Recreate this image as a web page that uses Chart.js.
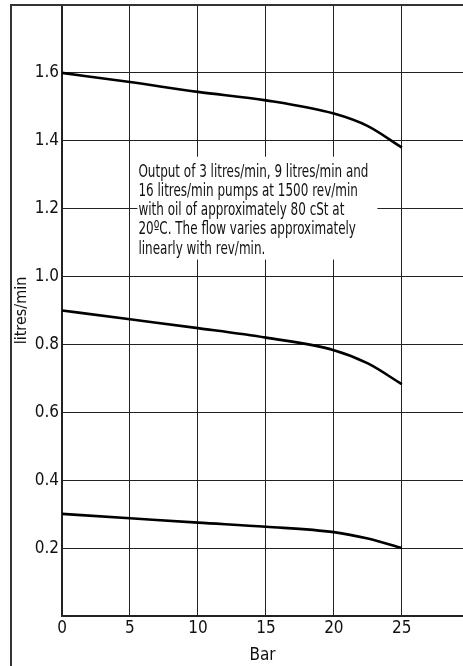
<!DOCTYPE html>
<html>
<head>
<meta charset="utf-8">
<script src="https://cdn.jsdelivr.net/npm/chart.js@4/dist/chart.umd.min.js"></script>
<style>
  html, body { margin: 0; padding: 0; background: #fff; }
  #wrap { width: 463px; height: 666px; }
</style>
</head>
<body>
<div id="wrap"><canvas id="mycanvas" width="463" height="666"></canvas></div>
<script>
// pressure (bar) against flow (litres/min) for the three pumps
const pressure = [0, 5, 10, 15, 20, 22.5, 25];
const flow16 = [1.6, 1.573, 1.544, 1.519, 1.48, 1.443, 1.38];
const flow9 = [0.9, 0.874, 0.848, 0.82, 0.783, 0.744, 0.683];
const flow3 = [0.301, 0.288, 0.275, 0.263, 0.247, 0.228, 0.2];

const yTickLabels = ['0.2', '0.4', '0.6', '0.8', '1.0', '1.2', '1.4', '1.6'];
const noteLines = [
  'Output of 3 litres/min, 9 litres/min and',
  '16 litres/min pumps at 1500 rev/min',
  'with oil of approximately 80 cSt at',
  '20ºC. The flow varies approximately',
  'linearly with rev/min.'
];

const FONT = '"Liberation Sans Narrow", "DejaVu Sans Condensed", sans-serif';

function toPoints(ys) {
  return pressure.map((x, i) => ({ x: x, y: ys[i] }));
}

function lineSet(ys) {
  return {
    data: toPoints(ys),
    borderColor: '#000',
    borderWidth: 2.6,
    pointRadius: 0,
    fill: false,
    cubicInterpolationMode: 'monotone'
  };
}

// outer frame and the note box
const extras = {
  id: 'extras',
  beforeDraw(chart) {
    const c = chart.ctx;
    c.save();
    c.fillStyle = '#fff';
    c.fillRect(0, 0, chart.width, chart.height);
    c.restore();
  },
  afterDraw(chart) {
    const c = chart.ctx;
    const xs = chart.scales.x, ys = chart.scales.y;
    c.save();
    c.strokeStyle = '#333';
    c.lineWidth = 2;
    c.beginPath();
    c.moveTo(11, chart.height);
    c.lineTo(11, 5);
    c.lineTo(chart.width, 5);
    c.stroke();

    // note box
    const left = xs.getPixelForValue(5.55);
    const right = xs.getPixelForValue(23.2);
    const top = ys.getPixelForValue(1.353);
    const bottom = ys.getPixelForValue(1.05);
    c.fillStyle = '#fff';
    c.fillRect(left, top, right - left, bottom - top);
    c.fillStyle = '#111';
    c.font = '18.5px ' + FONT;
    c.textBaseline = 'alphabetic';
    const w0 = c.measureText(noteLines[0]).width;
    const sx = 230 / w0;
    noteLines.forEach((t, i) => {
      c.save();
      c.translate(left + 1, top + 20 + i * 19.2);
      c.scale(sx, 1);
      c.fillText(t, 0, 0);
      c.restore();
    });
    c.restore();
  }
};

const config = {
  type: 'line',
  data: {
    datasets: [lineSet(flow16), lineSet(flow9), lineSet(flow3)]
  },
  options: {
    responsive: false,
    animation: false,
    layout: { padding: { left: 10, top: 5, right: 0, bottom: 0 } },
    plugins: {
      legend: { display: false },
      tooltip: { enabled: false }
    },
    scales: {
      x: {
        type: 'linear',
        min: 0,
        max: 29.5,
        afterFit(scale) { scale.height = 50; scale.paddingRight = 0; },
        ticks: {
          stepSize: 5,
          includeBounds: false,
          color: '#111',
          font: { family: FONT, size: 17 },
          padding: 2,
          maxRotation: 0
        },
        grid: { color: '#222', lineWidth: 1, drawTicks: false },
        border: { color: '#222', width: 1.5 },
        title: {
          display: true,
          text: 'Bar',
          color: '#111',
          font: { family: FONT, size: 17 },
          padding: { top: 0, bottom: 0 }
        }
      },
      y: {
        min: 0,
        max: 1.8,
        afterFit(scale) { scale.width = 52; scale.paddingTop = 0; },
        ticks: {
          stepSize: 0.2,
          color: '#111',
          font: { family: FONT, size: 17 },
          padding: 3,
          callback(v) {
            const k = Math.round(v / 0.2);
            return (k >= 1 && k <= yTickLabels.length) ? yTickLabels[k - 1] : '';
          }
        },
        grid: { color: '#222', lineWidth: 1, drawTicks: false },
        border: { color: '#222', width: 1.5 },
        title: {
          display: true,
          text: 'litres/min',
          color: '#111',
          font: { family: FONT, size: 16 },
          padding: { top: 2, bottom: 0 }
        }
      }
    }
  },
  plugins: [extras]
};

var myChart = new Chart(document.getElementById('mycanvas'), config);
</script>
</body>
</html>
